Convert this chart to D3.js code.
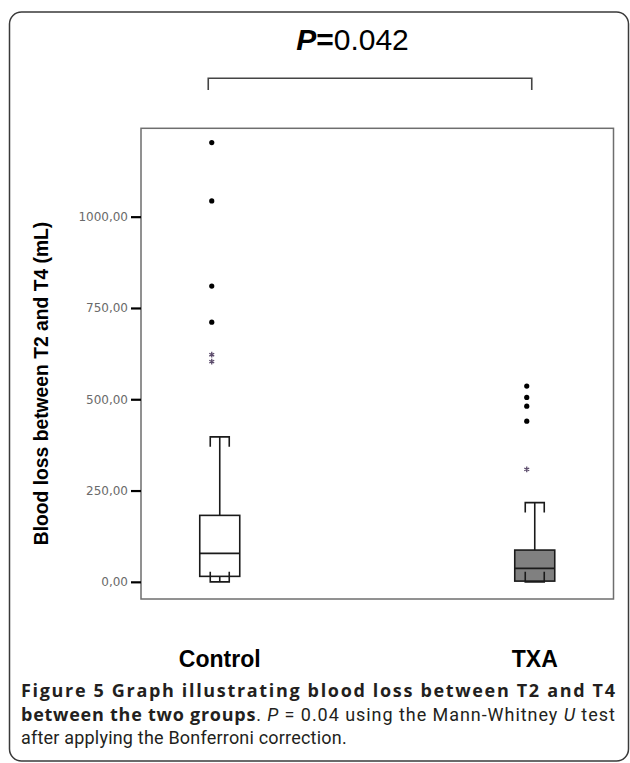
<!DOCTYPE html>
<html>
<head>
<meta charset="utf-8">
<script src="https://cdn.jsdelivr.net/npm/d3@7"></script>
<style>
    body { margin: 0; background: #fff; }
    svg { display: block; }
</style>
</head>
<body>
<div id="chart"></div>
<script>
var groups = ['Control', 'TXA'];
var whiskerLow = [0, 0];
var q1 = [15, 2];
var median = [78, 37];
var q3 = [182, 87];
var whiskerHigh = [397, 217];
// circles = outliers, asterisks = extremes (SPSS style)
var outliers = [[1203, 1043, 810, 711], [536, 505, 481, 440]];
var extremes = [[603, 622], [308]];
var yTicks = [0, 250, 500, 750, 1000];
var yDomain = [-47, 1242];
var titleText = '0.042';
var yLabel = 'Blood loss between T2 and T4 (mL)';

var width = 630, height = 763;
var plot = {left: 141, right: 613.5, top: 128.3, bottom: 599};

var svg = d3.select('#chart').append('svg')
    .attr('width', width)
    .attr('height', height);

// outer frame
svg.append('rect')
    .attr('x', 9.5)
    .attr('y', 12)
    .attr('width', 619)
    .attr('height', 749)
    .attr('rx', 12)
    .style('fill', 'none')
    .style('stroke', '#3a3a3a')
    .style('stroke-width', '1.5px');

var x = d3.scalePoint()
    .domain(groups)
    .range([plot.left, plot.right])
    .padding(0.25);

var y = d3.scaleLinear()
    .domain(yDomain)
    .range([plot.bottom, plot.top]);

var fmt = d3.formatLocale({decimal: ',', thousands: '', grouping: [3], currency: ['', '']}).format('.2f');

// plot frame
svg.append('rect')
    .attr('x', plot.left)
    .attr('y', plot.top)
    .attr('width', plot.right - plot.left)
    .attr('height', plot.bottom - plot.top)
    .style('fill', 'none')
    .style('stroke', '#6e6e6e')
    .style('stroke-width', '1.5px');

var yAxis = svg.append('g')
    .attr('transform', 'translate(' + plot.left + ',0)')
    .call(d3.axisLeft(y).tickValues(yTicks).tickSize(10).tickPadding(3).tickFormat(fmt));
yAxis.select('.domain').remove();
yAxis.selectAll('line').style('stroke', '#000').style('stroke-width', '2.2px');
yAxis.selectAll('text')
    .style('font-family', 'DejaVu Sans')
    .style('font-size', '12px')
    .style('fill', '#6a6a6a');

svg.append('text')
    .attr('transform', 'translate(47.6,' + 383.5 + ') rotate(-90)')
    .attr('text-anchor', 'middle')
    .style('font-family', 'Liberation Sans, Arial')
    .style('font-weight', 'bold')
    .style('font-size', '19.3px')
    .text(yLabel);

// category labels
svg.selectAll('.cat')
    .data(groups)
    .enter()
    .append('text')
    .attr('class', 'cat')
    .attr('x', function (d) { return x(d); })
    .attr('y', 666.7)
    .attr('text-anchor', 'middle')
    .style('font-family', 'Liberation Sans, Arial')
    .style('font-weight', 'bold')
    .style('font-size', '23px')
    .text(function (d) { return d; });

// boxes
var boxW = 40, capW = 19, capH = 10;
var box = svg.selectAll('.box')
    .data(groups)
    .enter()
    .append('g')
    .attr('class', 'box');

box.each(function (d, i) {
    var g = d3.select(this);
    var cx = x(d);
    var fill = i === 1 ? '#808080' : '#fff';
    // upper whisker
    g.append('line')
        .attr('x1', cx).attr('x2', cx)
        .attr('y1', y(q3[i])).attr('y2', y(whiskerHigh[i]));
    g.append('path')
        .attr('d', 'M' + (cx - capW / 2) + ',' + (y(whiskerHigh[i]) + capH) +
            'V' + y(whiskerHigh[i]) + 'H' + (cx + capW / 2) + 'V' + (y(whiskerHigh[i]) + capH));
    g.append('rect')
        .attr('x', cx - boxW / 2)
        .attr('y', y(q3[i]))
        .attr('width', boxW)
        .attr('height', y(q1[i]) - y(q3[i]))
        .style('fill', fill);
    g.append('line')
        .attr('x1', cx - boxW / 2).attr('x2', cx + boxW / 2)
        .attr('y1', y(median[i])).attr('y2', y(median[i]));
    // lower whisker
    g.append('line')
        .attr('x1', cx).attr('x2', cx)
        .attr('y1', y(q1[i])).attr('y2', y(whiskerLow[i]));
    g.append('path')
        .attr('d', 'M' + (cx - capW / 2) + ',' + (y(whiskerLow[i]) - capH) +
            'V' + y(whiskerLow[i]) + 'H' + (cx + capW / 2) + 'V' + (y(whiskerLow[i]) - capH));
    g.selectAll('line, path, rect')
        .style('stroke', '#1a1a1a')
        .style('stroke-width', '1.6px');
    g.selectAll('path').style('fill', 'none');

    g.selectAll('.out')
        .data(outliers[i])
        .enter()
        .append('circle')
        .attr('class', 'out')
        .attr('cx', cx - 8)
        .attr('cy', function (v) { return y(v); })
        .attr('r', 2.6)
        .style('fill', '#000');

    g.selectAll('.ext')
        .data(extremes[i])
        .enter()
        .append('path')
        .attr('class', 'ext')
        .attr('transform', function (v) { return 'translate(' + (cx - 8) + ',' + y(v) + ')'; })
        .attr('d', d3.symbol().type(d3.symbolAsterisk).size(22))
        .style('fill', 'none')
        .style('stroke', '#5a4a6a')
        .style('stroke-width', '1.3px');
});

// title and bracket
var title = svg.append('text')
    .attr('x', 352.5)
    .attr('y', 50)
    .attr('text-anchor', 'middle')
    .style('font-family', 'Liberation Sans, Arial')
    .style('font-size', '30px');
title.append('tspan').style('font-weight', 'bold').style('font-style', 'italic').text('P');
title.append('tspan').style('font-weight', 'bold').text('=');
title.append('tspan').text(titleText);

svg.append('path')
    .attr('d', 'M' + (x(groups[0]) - 11.5) + ',90V78.3H' + (x(groups[1]) - 3) + 'V90')
    .style('fill', 'none')
    .style('stroke', '#444')
    .style('stroke-width', '1.6px');

// caption, first two lines justified; regular runs in a narrower face
var capX = 21, capRight = 615;
var lines = [
    [{t: 'Figure 5 Graph illustrating blood loss between T2 and T4', w: 'bold'}],
    [{t: 'between the two groups', w: 'bold'}, {t: '. '}, {t: 'P', i: true}, {t: ' = 0.04 using the Mann-Whitney '}, {t: 'U', i: true}, {t: ' test'}],
    [{t: 'after applying the Bonferroni correction.'}]
];
var baselines = [697, 720.5, 744];

lines.forEach(function (parts, li) {
    var t = svg.append('text')
        .attr('x', capX)
        .attr('y', baselines[li])
        .style('font-size', '18px')
        .style('fill', '#231f20');
    parts.forEach(function (p) {
        t.append('tspan')
            .style('font-family', p.w ? 'Open Sans' : 'Roboto')
            .style('font-weight', p.w || 'normal')
            .style('font-style', p.i ? 'italic' : 'normal')
            .style('letter-spacing', p.w ? '0px' : '0.2px')
            .text(p.t);
    });
    if (li < 2) {
        t.attr('textLength', capRight - capX).attr('lengthAdjust', 'spacing');
    }
});
</script>
</body>
</html>
